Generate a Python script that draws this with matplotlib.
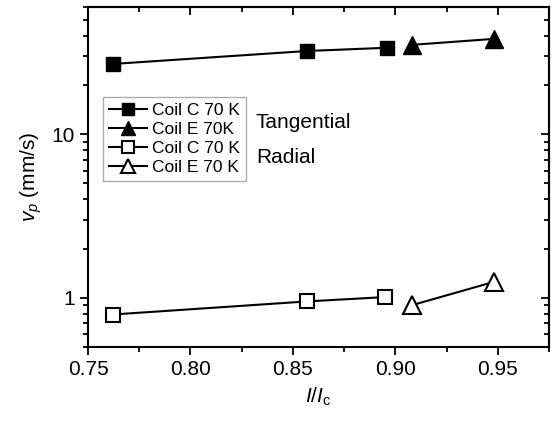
import numpy as np
import matplotlib.pyplot as plt
from matplotlib.ticker import MultipleLocator, LogLocator, NullFormatter, FixedLocator

plt.rcParams['font.family'] = ['Liberation Sans', 'DejaVu Sans']
plt.rcParams['mathtext.fontset'] = 'custom'
plt.rcParams['mathtext.rm'] = 'Liberation Sans'
plt.rcParams['mathtext.it'] = 'Liberation Sans:italic'

# --- データ ---
x_tan_c = [0.762, 0.857, 0.896]
y_tan_c = [26.9, 32.3, 33.8]
x_tan_e = [0.908, 0.948]
y_tan_e = [35.2, 38.3]

x_rad_c = [0.762, 0.857, 0.895]
y_rad_c = [0.79, 0.95, 1.01]
x_rad_e = [0.908, 0.948]
y_rad_e = [0.90, 1.25]

labels = ['Coil C 70 K', 'Coil E 70K', 'Coil C 70 K', 'Coil E 70 K']
xticks = [0.75, 0.80, 0.85, 0.90, 0.95]

W, H = 553, 428
fig = plt.figure(figsize=(W / 100, H / 100), dpi=100)
ax = fig.add_axes([88/W, 1 - 347/H, 461/W, 340/H])

ms_sq, ms_tri = 10.5, 12.5
ax.plot(x_tan_c, y_tan_c, '-s', color='black', lw=1.5, ms=ms_sq, mfc='black', label=labels[0])
ax.plot(x_tan_e, y_tan_e, '-^', color='black', lw=1.5, ms=ms_tri, mfc='black', label=labels[1])
ax.plot(x_rad_c, y_rad_c, '-s', color='black', lw=1.5, ms=ms_sq, mfc='white', mew=1.5, label=labels[2])
ax.plot(x_rad_e, y_rad_e, '-^', color='black', lw=1.5, ms=ms_tri, mfc='white', mew=1.5, label=labels[3])

ax.set_yscale('log')
ax.set_xlim(0.75, 0.975)
ax.set_ylim(0.5, 60)

ax.xaxis.set_major_locator(FixedLocator(xticks))
ax.set_xticklabels([f'{v:.2f}' for v in xticks])
ax.xaxis.set_minor_locator(MultipleLocator(0.025))
ax.yaxis.set_major_locator(FixedLocator([1, 10]))
ax.set_yticklabels(['1', '10'])
ax.yaxis.set_minor_locator(LogLocator(base=10, subs=np.arange(2, 10)))
ax.yaxis.set_minor_formatter(NullFormatter())

ax.tick_params(which='both', direction='out', labelsize=15, width=1.3)
ax.tick_params(which='major', length=6)
ax.tick_params(which='minor', length=3.5)

# 上・右の目盛り（内向き）
axt = ax.secondary_xaxis('top')
axt.xaxis.set_major_locator(FixedLocator(xticks))
axt.xaxis.set_minor_locator(MultipleLocator(0.025))
axt.tick_params(which='both', direction='in', labeltop=False, width=1.3)
axt.tick_params(which='major', length=6)
axt.tick_params(which='minor', length=3.5)
axr = ax.secondary_yaxis('right')
axr.yaxis.set_major_locator(FixedLocator([1, 10]))
axr.yaxis.set_minor_locator(LogLocator(base=10, subs=np.arange(2, 10)))
axr.yaxis.set_minor_formatter(NullFormatter())
axr.tick_params(which='both', direction='in', labelright=False, width=1.3)
axr.tick_params(which='major', length=6)
axr.tick_params(which='minor', length=3.5)
for a in (axt, axr):
    a.spines[:].set_linewidth(1.5)

for s in ax.spines.values():
    s.set_linewidth(1.5)

ax.set_xlabel(r'$I/I_{\mathrm{c}}$', fontsize=15, labelpad=5)
ax.set_ylabel(r'$v_{p}$ (mm/s)', fontsize=15, labelpad=5)

leg = ax.legend(loc='upper left', bbox_to_anchor=(0.033, 0.735), borderaxespad=0,
                fontsize=12.5, frameon=True, fancybox=False, handlelength=2.2,
                handletextpad=0.25, labelspacing=0.22, borderpad=0.35, markerscale=0.8)
leg.get_frame().set_edgecolor('#999999')
leg.get_frame().set_linewidth(1.0)

fig.text(256/W, 1 - 122/H, 'Tangential', fontsize=15, va='center')
fig.text(256/W, 1 - 157/H, 'Radial', fontsize=15, va='center')

plt.savefig('out.png', dpi=100)
